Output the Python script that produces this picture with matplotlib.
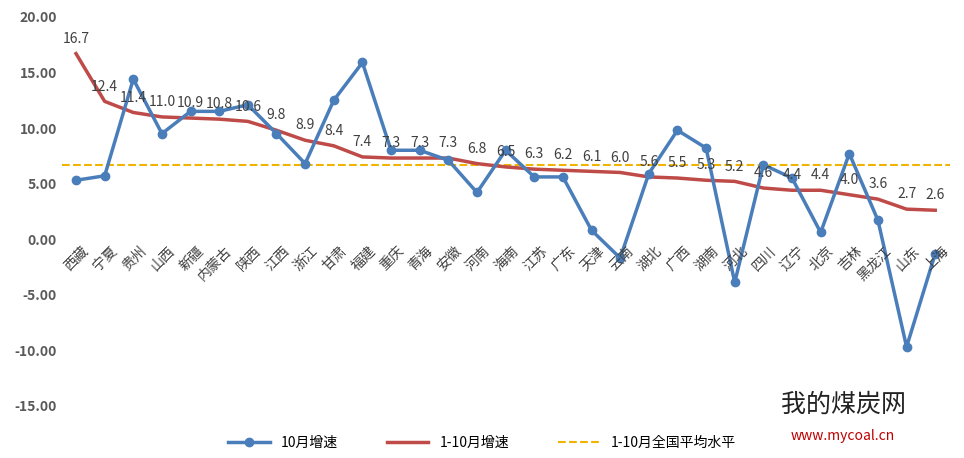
import matplotlib
matplotlib.use("Agg")
import matplotlib.pyplot as plt
from matplotlib import font_manager

names = {f.name for f in font_manager.fontManager.ttflist}
cjk = [n for n in ["Noto Sans CJK SC","Noto Sans CJK JP","Noto Sans SC","Noto Sans CJK TC"] if n in names]
plt.rcParams['font.family'] = 'sans-serif'
plt.rcParams['font.sans-serif'] = cjk + ['DejaVu Sans']

provinces = ["西藏","宁夏","贵州","山西","新疆","内蒙古","陕西","江西","浙江","甘肃","福建","重庆","青海","安徽","河南","海南","江苏","广东","天津","云南","湖北","广西","湖南","河北","四川","辽宁","北京","吉林","黑龙江","山东","上海"]
oct_growth = [5.3,5.7,14.4,9.5,11.5,11.5,12.1,9.5,6.8,12.5,15.9,8.0,8.0,7.1,4.2,8.0,5.6,5.6,0.8,-1.7,5.9,9.8,8.2,-3.9,6.7,5.5,0.6,7.7,1.7,-9.7,-1.3]
ytd_growth = [16.7,12.4,11.4,11.0,10.9,10.8,10.6,9.8,8.9,8.4,7.4,7.3,7.3,7.3,6.8,6.5,6.3,6.2,6.1,6.0,5.6,5.5,5.3,5.2,4.6,4.4,4.4,4.0,3.6,2.7,2.6]
national_avg = 6.7
yticks = [20,15,10,5,0,-5,-10,-15]

fig = plt.figure(figsize=(9.64,4.58), dpi=100)
ax = fig.add_axes([0.064,0.114,0.921,0.849])
x = list(range(len(provinces)))
ax.plot(x, oct_growth, color='#4a7ebb', lw=2.5, marker='o', ms=6, label='10月增速', zorder=3)
ax.plot(x, ytd_growth, color='#be4b48', lw=2.5, label='1-10月增速', zorder=2)
ax.plot([-0.5, 30.5], [national_avg]*2, color='#f0b400', lw=1.5, ls='--', label='1-10月全国平均水平', zorder=1)
for xi, v in zip(x, ytd_growth):
    ax.text(xi, v+0.7, f"{v:.1f}", ha='center', va='bottom', fontsize=10, color='#404040')
for xi, p in zip(x, provinces):
    ax.text(xi+0.2, -0.4, p, rotation=45, ha='right', va='top', fontsize=10, color='#404040', rotation_mode='anchor')
ax.set_xlim(-0.5, 30.5)
ax.set_ylim(-15, 20)
ax.set_yticks(yticks)
ax.set_yticklabels([f"{t:.2f}" for t in yticks], fontsize=10, color='#595959', fontweight='bold')
ax.set_xticks([])
for s in ax.spines.values():
    s.set_visible(False)
ax.tick_params(axis='y', length=0)
fig.legend(loc='lower center', bbox_to_anchor=(0.5, -0.01), ncol=3, frameon=False, fontsize=10, handlelength=3, columnspacing=3.5)
fig.text(0.81, 0.1, "我的煤炭网", fontsize=18, color='#222222')
fig.text(0.82, 0.04, "www.mycoal.cn", fontsize=10, color='#c00000')
fig.savefig("out.png", dpi=100)
